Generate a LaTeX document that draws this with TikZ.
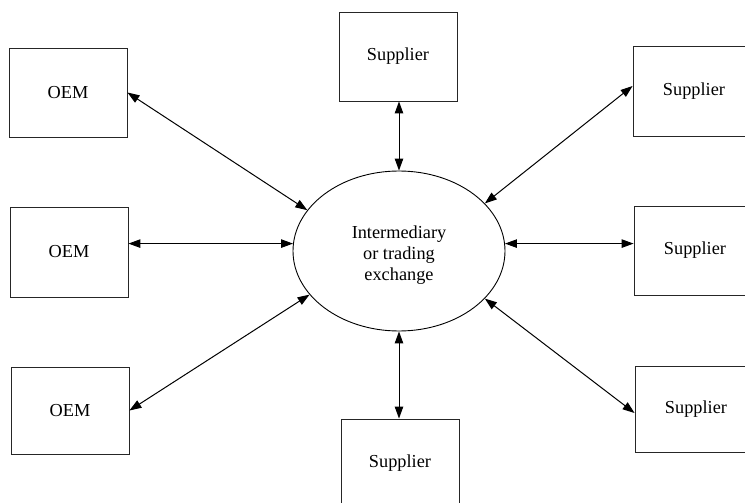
\documentclass[tikz,border=0pt]{standalone}
\usepackage{fontspec}
\setmainfont{Liberation Serif}
\usetikzlibrary{arrows.meta,shapes.geometric}
\begin{document}
\begin{tikzpicture}[x=1pt,y=-1pt,
  txt/.style={font=\fontsize{18.3}{21}\selectfont},
  box/.style={txt,draw=black!85,line width=0.9pt,minimum width=118pt,minimum height=89pt,inner sep=0pt},
  hub/.style={ellipse,draw,line width=0.9pt,minimum width=212pt,minimum height=160pt,inner sep=0pt},
  link/.style={line width=1pt,{Triangle[length=12pt,width=8.5pt]}-{Triangle[length=12pt,width=8.5pt]}}]
\clip (0,0) rectangle (745,503);
\fill[white] (0,0) rectangle (745,503);
\node[hub] (e) at (399,251) {};
\node[txt,align=center,inner sep=0pt] (et) at (399,255) {Intermediary\\or trading\\exchange};
\node[box] (oem1) at (68,92.5) {OEM};
\node[box,minimum height=90pt] (oem2) at (69,252) {OEM};
\node[box,minimum height=87pt] (oem3) at (70,410.5) {OEM};
\node[box] (sup1) at (398,56.5) {Supplier};
\node[box] (sup2) at (400,463.5) {\raisebox{4pt}{Supplier}};
\node[box,minimum height=90pt] (r1) at (692,91) {\hspace*{4pt}Supplier};
\node[box] (r2) at (693,250.5) {\hspace*{4pt}Supplier};
\node[box,minimum height=86pt] (r3) at (694,409) {\hspace*{4pt}Supplier};
\draw[link] (oem1.east) -- (e.156);
\draw[link] (e.176 -| oem2.east) -- (e.176);
\draw[link] (oem3.east) -- (e.206);
\draw[link] (e.north |- sup1.south) -- (e.north);
\draw[link] (e.south) -- (e.south |- sup2.north);
\draw[link] (e.29) -- ([yshift=5pt]r1.west);
\draw[link] (e.4) -- (e.4 -| r2.west);
\draw[link] (e.331) -- ([yshift=-4pt]r3.west);
\end{tikzpicture}
\end{document}
